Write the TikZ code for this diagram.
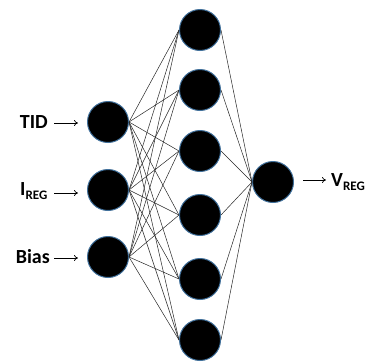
\documentclass[tikz,border=0pt]{standalone}
\usepackage{fontspec}
\setmainfont{Carlito}
\usetikzlibrary{arrows.meta}
\begin{document}
\begin{tikzpicture}[x=1pt,y=-1pt,
  neuron/.style={circle,fill=black,draw={rgb,255:red,65;green,113;blue,156},line width=1pt,minimum size=41pt,inner sep=0pt},
  link/.style={draw=black!85,line width=0.5pt},
  lab/.style={font=\bfseries\fontsize{20}{20}\selectfont,inner sep=0pt},
  inarrow/.style={-{To[length=4pt,width=6pt]},line width=0.7pt}]
\useasboundingbox (0,0) rectangle (374,362);
\node[neuron] (i1) at (108,122) {};
\node[neuron] (i2) at (108,190) {};
\node[neuron] (i3) at (108,257) {};
\foreach \n/\y in {1/30,2/90,3/151,4/215,5/279,6/340}
  \node[neuron] (h\n) at (200,\y) {};
\node[neuron] (o) at (273,182) {};
\foreach \i in {1,2,3}
  \foreach \h in {1,...,6}
    \draw[link] (i\i.east) -- (h\h.west);
\foreach \h in {1,...,6}
  \draw[link] (h\h.east) -- (o.west);
\node[lab,anchor=east] (tid) at (48,122) {TID};
\node[lab,anchor=east] (ireg) at (48,191) {I\textsubscript{\fontsize{13}{13}\selectfont REG}};
\node[lab,anchor=east] (bias) at (50,257) {Bias};
\node[lab,anchor=west] (vreg) at (331,182) {V\textsubscript{\fontsize{13}{13}\selectfont REG}};
\coordinate (s1) at (54,123);
\coordinate (s2) at (54,193);
\coordinate (s3) at (54,258);
\coordinate (a1) at (78,123);
\coordinate (a2) at (78,193);
\coordinate (a3) at (78,258);
\coordinate (a4) at (326,180);
\coordinate (b4) at (303,180);
\draw[inarrow] (s1) -- (a1);
\draw[inarrow] (s2) -- (a2);
\draw[inarrow] (s3) -- (a3);
\draw[inarrow] (b4) -- (a4);
\end{tikzpicture}
\end{document}
